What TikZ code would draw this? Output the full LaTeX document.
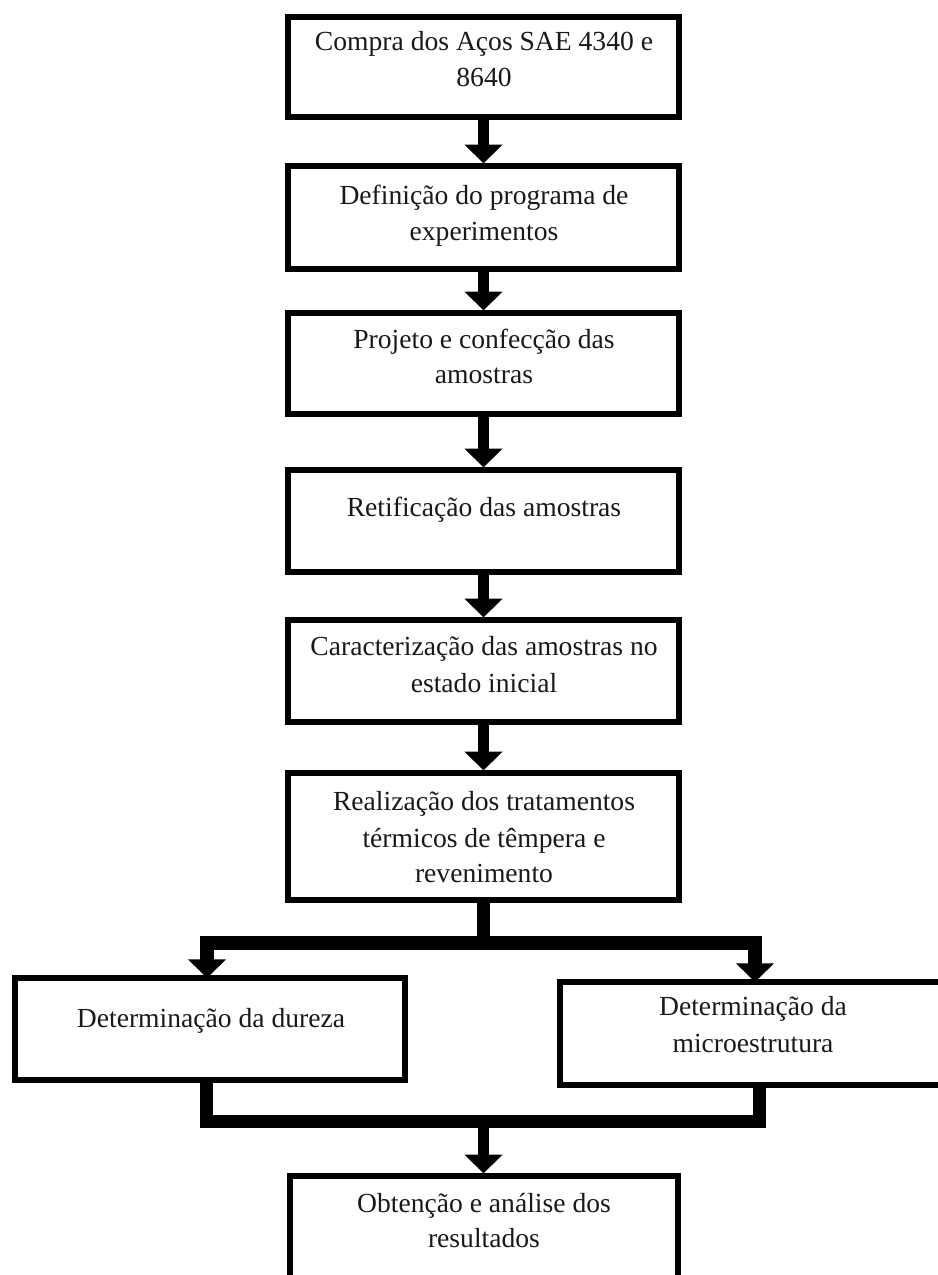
\documentclass[tikz,border=0pt]{standalone}
\usepackage{fontspec}
\setmainfont{Liberation Serif}
\usetikzlibrary{arrows.meta}
\begin{document}
\begin{tikzpicture}[x=0.75pt,y=-0.75pt,
  box/.style={draw=black,line width=4.5pt,rectangle,inner sep=0pt,outer sep=0pt},
  txt/.style={anchor=base,inner sep=0pt,font=\fontsize{20.7}{27}\selectfont,text=black!90},
  flow/.style={line width=8pt,-{Triangle[width=27.75pt,length=14pt]},shorten >=2pt},
  branch/.style={line width=10pt,line join=miter},
  branchtip/.style={line width=10pt,line join=miter,{Triangle[width=27.75pt,length=14pt]}-{Triangle[width=27.75pt,length=14pt]}}]
\useasboundingbox (0,0) rectangle (938,1275);
\clip (0,0) rectangle (938,1275);
% boxes
\node[box,minimum width=391*0.75pt,minimum height=100*0.75pt] (b1) at (483.5,67) {};
\node[box,minimum width=391*0.75pt,minimum height=103*0.75pt] (b2) at (483.5,217.5) {};
\node[box,minimum width=391*0.75pt,minimum height=101*0.75pt] (b3) at (483.5,363.5) {};
\node[box,minimum width=391*0.75pt,minimum height=102*0.75pt] (b4) at (483.5,521) {};
\node[box,minimum width=391*0.75pt,minimum height=102*0.75pt] (b5) at (483.5,671) {};
\node[box,minimum width=391*0.75pt,minimum height=127*0.75pt] (b6) at (483.5,836.5) {};
\node[box,minimum width=390*0.75pt,minimum height=102*0.75pt] (lb) at (210,1029) {};
\node[box,minimum width=386*0.75pt,minimum height=103*0.75pt] (rb) at (753,1033.5) {};
\node[box,minimum width=388*0.75pt,minimum height=104*0.75pt] (fb) at (483.5,1228) {};
% texts
\node[txt] (t1a) at (484,50) {Compra dos Aços SAE 4340 e};
\node[txt] (t1b) at (484,86) {8640};
\node[txt] (t2a) at (484,204) {Definição do programa de};
\node[txt] (t2b) at (484,240) {experimentos};
\node[txt] (t3a) at (484,348) {Projeto e confecção das};
\node[txt] (t3b) at (484,383) {amostras};
\node[txt] (t4a) at (484,516) {Retificação das amostras};
\node[txt] (t5a) at (484,655) {Caracterização das amostras no};
\node[txt] (t5b) at (484,692) {estado inicial};
\node[txt] (t6a) at (484,810) {Realização dos tratamentos};
\node[txt] (t6b) at (484,847) {térmicos de têmpera e};
\node[txt] (t6c) at (484,882) {revenimento};
\node[txt] (tla) at (211,1027) {Determinação da dureza};
\node[txt] (tra) at (753,1015) {Determinação da};
\node[txt] (trb) at (753,1052) {microestrutura};
\node[txt] (tfa) at (484,1212) {Obtenção e análise dos};
\node[txt] (tfb) at (484,1247) {resultados};
% straight arrows
\draw[flow] (b1.south) -- (b2.north);
\draw[flow] (b2.south) -- (b3.north);
\draw[flow] (b3.south) -- (b4.north);
\draw[flow] (b4.south) -- (b5.north);
\draw[flow] (b5.south) -- (b6.north);
% branch
\coordinate (bl) at (207,943);
\coordinate (br) at (755,943);
\coordinate (bm) at (483.5,943);
\draw[branch] (b6.south) -- (bm);
\draw[branchtip] (bl |- lb.north) -- (bl) -- (br) -- (br |- rb.north);
% merge
\coordinate (ml) at (206.5,1121.5);
\coordinate (mr) at (759.5,1121.5);
\coordinate (mm) at (483.5,1121.5);
\draw[branch,line width=9.75pt] (ml |- lb.south) -- (ml) -- (mr) -- (mr |- rb.south);
\draw[flow] (mm) -- (fb.north);
\end{tikzpicture}
\end{document}
